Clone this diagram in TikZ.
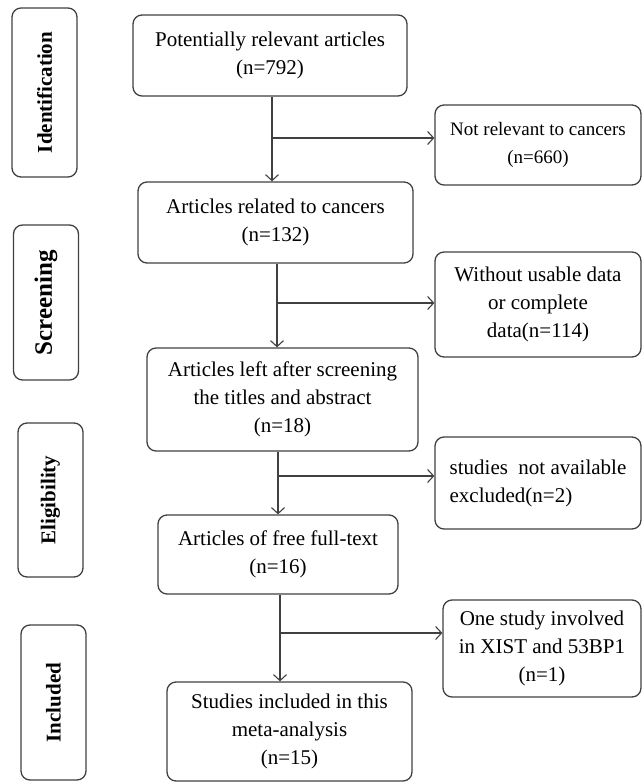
\documentclass[tikz,border=0pt]{standalone}
\usepackage{fontspec}
\setmainfont{Liberation Serif}
\usepackage{tikz}
\usetikzlibrary{positioning,arrows.meta}

\begin{document}
\begin{tikzpicture}[
        x=1pt, y=-1pt,
        stage/.style={rectangle, rounded corners=9pt, draw=black!75, line width=1.3pt, rotate=90, minimum height=65pt, inner sep=0pt, font=\fontsize{21}{26}\selectfont\bfseries},
        flow/.style={rectangle, rounded corners=9pt, draw=black!75, line width=1.3pt, align=center, inner sep=0pt, font=\fontsize{21}{28}\selectfont},
        excl/.style={flow},
        arr/.style={-{Straight Barb[length=6pt,width=13pt]}, draw=black!75, line width=1.1pt}
        ]
        \useasboundingbox (0,0) rectangle (643,783);

        % stages
        \node[stage, minimum width=169pt] (ident)   at (44.5,92.5)  {Identification};
        \node[stage, minimum width=155pt, font=\fontsize{25}{30}\selectfont\bfseries] (screen)  at (46,302.5)   {Screening};
        \node[stage, minimum width=154pt] (elig)    at (50.5,500)   {Eligibility};
        \node[stage, minimum width=155pt] (incl)    at (53.5,702.5) {Included};

        % main flow
        \node[flow, minimum width=274pt, minimum height=81pt]  (pot)    at (270,55.5)   {Potentially relevant articles\\(n=792)};
        \node[flow, minimum width=275pt, minimum height=81pt]  (cancer) at (275.5,222.5) {Articles related to cancers\\(n=132)};
        \node[flow, minimum width=271pt, minimum height=103pt] (left)   at (282.5,399.5) {Articles left after screening\\the titles and abstract\\(n=18)};
        \node[flow, minimum width=240pt, minimum height=79pt]  (free)   at (278,554.5)  {Articles of free full-text\\(n=16)};
        \node[flow, minimum width=245pt, minimum height=99pt]  (meta)   at (289.5,731.5) {Studies included in this\\meta-analysis\\(n=15)};

        % excluded
        \node[excl, minimum width=206pt, minimum height=80pt, font=\fontsize{19}{28}\selectfont] (notrel) at (538,145) {Not relevant to cancers\\(n=660)};
        \node[excl, minimum width=206pt, minimum height=105pt] (nodata) at (538,304.5) {Without usable data\\or complete\\data(n=114)};
        \node[excl, minimum width=206pt, minimum height=92pt, align=left] (notav) at (538,483) {studies\ \ not available\\excluded(n=2)};
        \node[excl, minimum width=198pt, minimum height=97pt] (onestudy) at (542,648.5) {One study involved\\in XIST and 53BP1\\(n=1)};

        \coordinate (j1) at (272,138);
        \coordinate (j2) at (277,303);
        \coordinate (j3) at (278,476);
        \coordinate (j4) at (280,633);

        %Lines
        \draw[arr] (pot.south -| j1) -- (cancer.north -| j1);
        \draw[arr] (cancer.south -| j2) -- (left.north -| j2);
        \draw[arr] (left.south -| j3) -- (free.north -| j3);
        \draw[arr] (free.south -| j4) -- (meta.north -| j4);
        \draw[arr] (j1) -- (j1 -| notrel.west);
        \draw[arr] (j2) -- (j2 -| nodata.west);
        \draw[arr] (j3) -- (j3 -| notav.west);
        \draw[arr] (j4) -- (j4 -| onestudy.west);

    \end{tikzpicture}
\end{document}
